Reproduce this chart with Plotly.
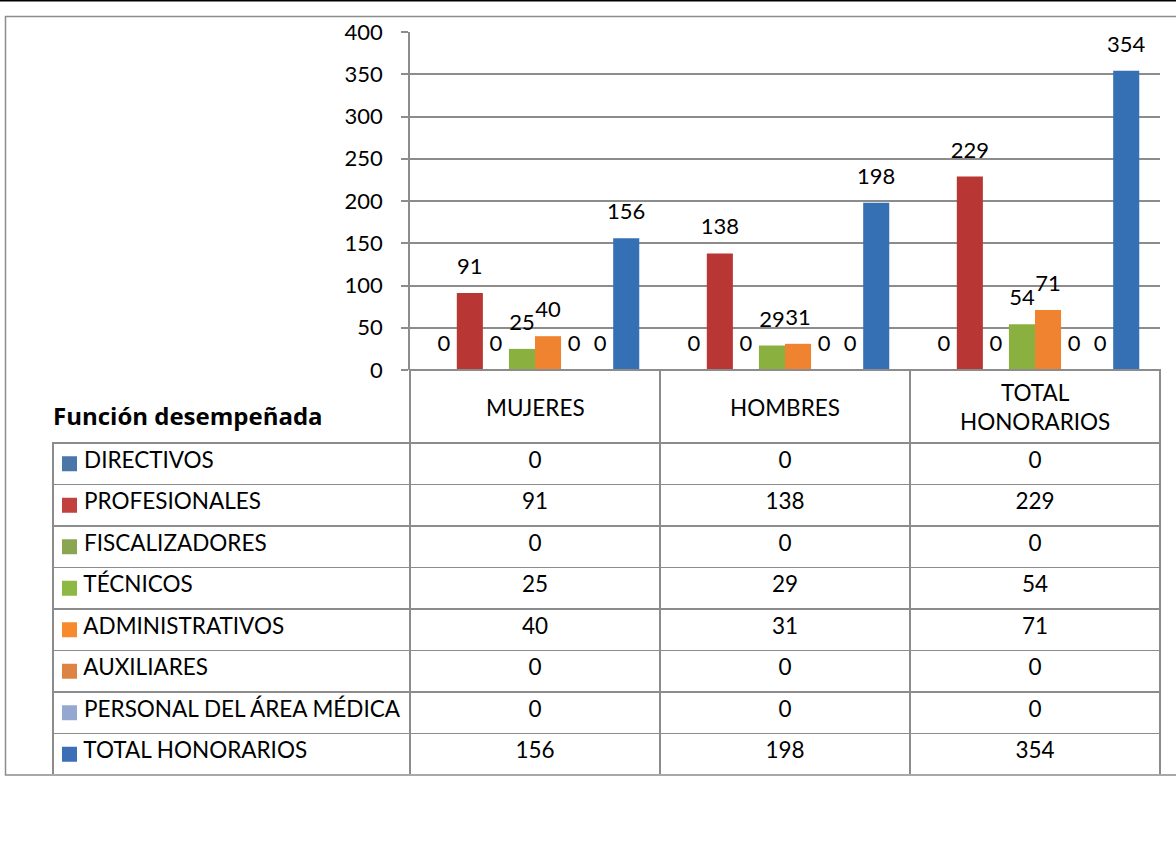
import plotly.graph_objects as go

# ---------------- data ----------------
categories = ["MUJERES", "HOMBRES", "TOTAL<br>HONORARIOS"]
series_names = [
    "DIRECTIVOS",
    "PROFESIONALES",
    "FISCALIZADORES",
    "TÉCNICOS",
    "ADMINISTRATIVOS",
    "AUXILIARES",
    "PERSONAL DEL ÁREA MÉDICA",
    "TOTAL HONORARIOS",
]
directivos = [0, 0, 0]
profesionales = [91, 138, 229]
fiscalizadores = [0, 0, 0]
tecnicos = [25, 29, 54]
administrativos = [40, 31, 71]
auxiliares = [0, 0, 0]
personal_area_medica = [0, 0, 0]
total_honorarios = [156, 198, 354]
y_ticks = [0, 50, 100, 150, 200, 250, 300, 350, 400]
table_title = "Función desempeñada"

series_values = [directivos, profesionales, fiscalizadores, tecnicos,
                 administrativos, auxiliares, personal_area_medica, total_honorarios]

# ---------------- style ----------------
bar_colors = ["#4A76A8", "#B83634", "#8AA652", "#8AB040",
              "#F08330", "#DD8444", "#95A9D0", "#3670B4"]
swatch_colors = ["#4A76A8", "#C0413E", "#8AA652", "#8DB843",
                 "#F78A2C", "#DD8444", "#95A9D0", "#3B6FB6"]
FONT = "Lato"
GRAY = "#8C8C8C"
TXT = 22.5
W, H = 1176, 857
NBSP = "\u00a0"
CLEAR = "rgba(0,0,0,0)"


def px_x(p):
    return p / W


def px_y(p):
    return 1 - p / H


fig = go.Figure()

for name, vals, col in zip(series_names, series_values, bar_colors):
    fig.add_trace(go.Bar(
        x=categories, y=vals, name=name, marker_color=col,
        marker_line_width=0, hoverinfo="skip",
    ))

for name, vals in zip(series_names, series_values):
    fig.add_trace(go.Scatter(
        x=categories, y=vals, name=name, mode="markers+text",
        text=[str(v) for v in vals], textposition="top center",
        textfont=dict(family=FONT, size=22, color="#000000"),
        marker=dict(size=20, opacity=0), cliponaxis=False,
        hoverinfo="skip", showlegend=False,
    ))

# legend keys of the data table (one square per series, one row each)
row_index = list(range(len(series_names)))
fig.add_trace(go.Scatter(
    x=[0] * len(series_names), y=row_index, xaxis="x2", yaxis="y2",
    mode="markers", marker=dict(symbol="square", size=15, color=swatch_colors,
                                line=dict(width=0)),
    hoverinfo="skip", showlegend=False, cliponaxis=False,
))

# data table
first_col = [NBSP * 4 + n.replace(" ", NBSP) for n in series_names]
table_cols = [first_col] + [[str(s[i]) for s in series_values] for i in range(len(categories))]

fig.add_trace(go.Table(
    domain=dict(x=[px_x(53), px_x(1160)], y=[px_y(775), px_y(370)]),
    columnwidth=[357, 250, 250, 250],
    header=dict(
        values=["", "", "", ""], height=73,
        fill_color=[CLEAR, CLEAR, CLEAR, CLEAR],
        line=dict(color=[CLEAR, GRAY, GRAY, GRAY], width=1.5),
    ),
    cells=dict(
        values=table_cols, height=41.5,
        align=["left", "center", "center", "center"],
        fill_color=CLEAR,
        line=dict(color=GRAY, width=1.5),
        font=dict(family=FONT, size=TXT, color="#000000"),
    ),
))

annotations = [
    dict(x=c, y=px_y(407), xref="x", yref="paper", text=c, showarrow=False,
         xanchor="center", yanchor="middle",
         font=dict(family=FONT, size=TXT, color="#000000"))
    for c in categories
]
annotations.append(dict(
    x=px_x(51), y=px_y(415), xref="paper", yref="paper",
    text=f"<b>{table_title}</b>", showarrow=False, xanchor="left", yanchor="middle",
    font=dict(family="Open Sans", size=24, color="#000000")))

shapes = [
    dict(type="rect", xref="paper", yref="paper",
         x0=px_x(5.5), x1=1.02, y0=px_y(775), y1=px_y(16.5),
         line=dict(color=GRAY, width=1.5), layer="below"),
    dict(type="line", xref="paper", yref="paper",
         x0=0, x1=1, y0=px_y(0.5), y1=px_y(0.5),
         line=dict(color="#000000", width=2)),
]

fig.update_layout(
    width=W, height=H,
    margin=dict(l=0, r=0, t=0, b=0, autoexpand=False),
    paper_bgcolor="white", plot_bgcolor="white",
    barmode="group", bargap=0.166, bargroupgap=0,
    scattermode="group", scattergap=0.166,
    showlegend=False,
    font=dict(family=FONT, size=20, color="#000000"),
    xaxis=dict(domain=[px_x(410), px_x(1160)], type="category", automargin=False,
               showticklabels=False, showgrid=False, zeroline=False,
               showline=False, ticks=""),
    yaxis=dict(domain=[px_y(370), px_y(32)], range=[0, 400], automargin=False,
               tickvals=y_ticks, showgrid=True, gridcolor=GRAY, gridwidth=1.5,
               zeroline=False, showline=True, linecolor=GRAY, linewidth=1.5,
               ticks="outside", ticklen=7, tickcolor=GRAY, tickwidth=1.5,
               ticklabelstandoff=14,
               tickfont=dict(family=FONT, size=22, color="#000000")),
    # axes used only to place the table's legend keys, one per row
    xaxis2=dict(domain=[px_x(53), px_x(410)], range=[-16.5, 340.5], visible=False,
                anchor="y2"),
    yaxis2=dict(domain=[px_y(775), px_y(443)], range=[len(series_names) - 0.5, -0.5],
                visible=False, anchor="x2"),
    annotations=annotations,
    shapes=shapes,
)

fig.write_html("out.html", config={"displayModeBar": False},
               post_script="document.body.style.margin='0';document.body.style.overflow='hidden';")
